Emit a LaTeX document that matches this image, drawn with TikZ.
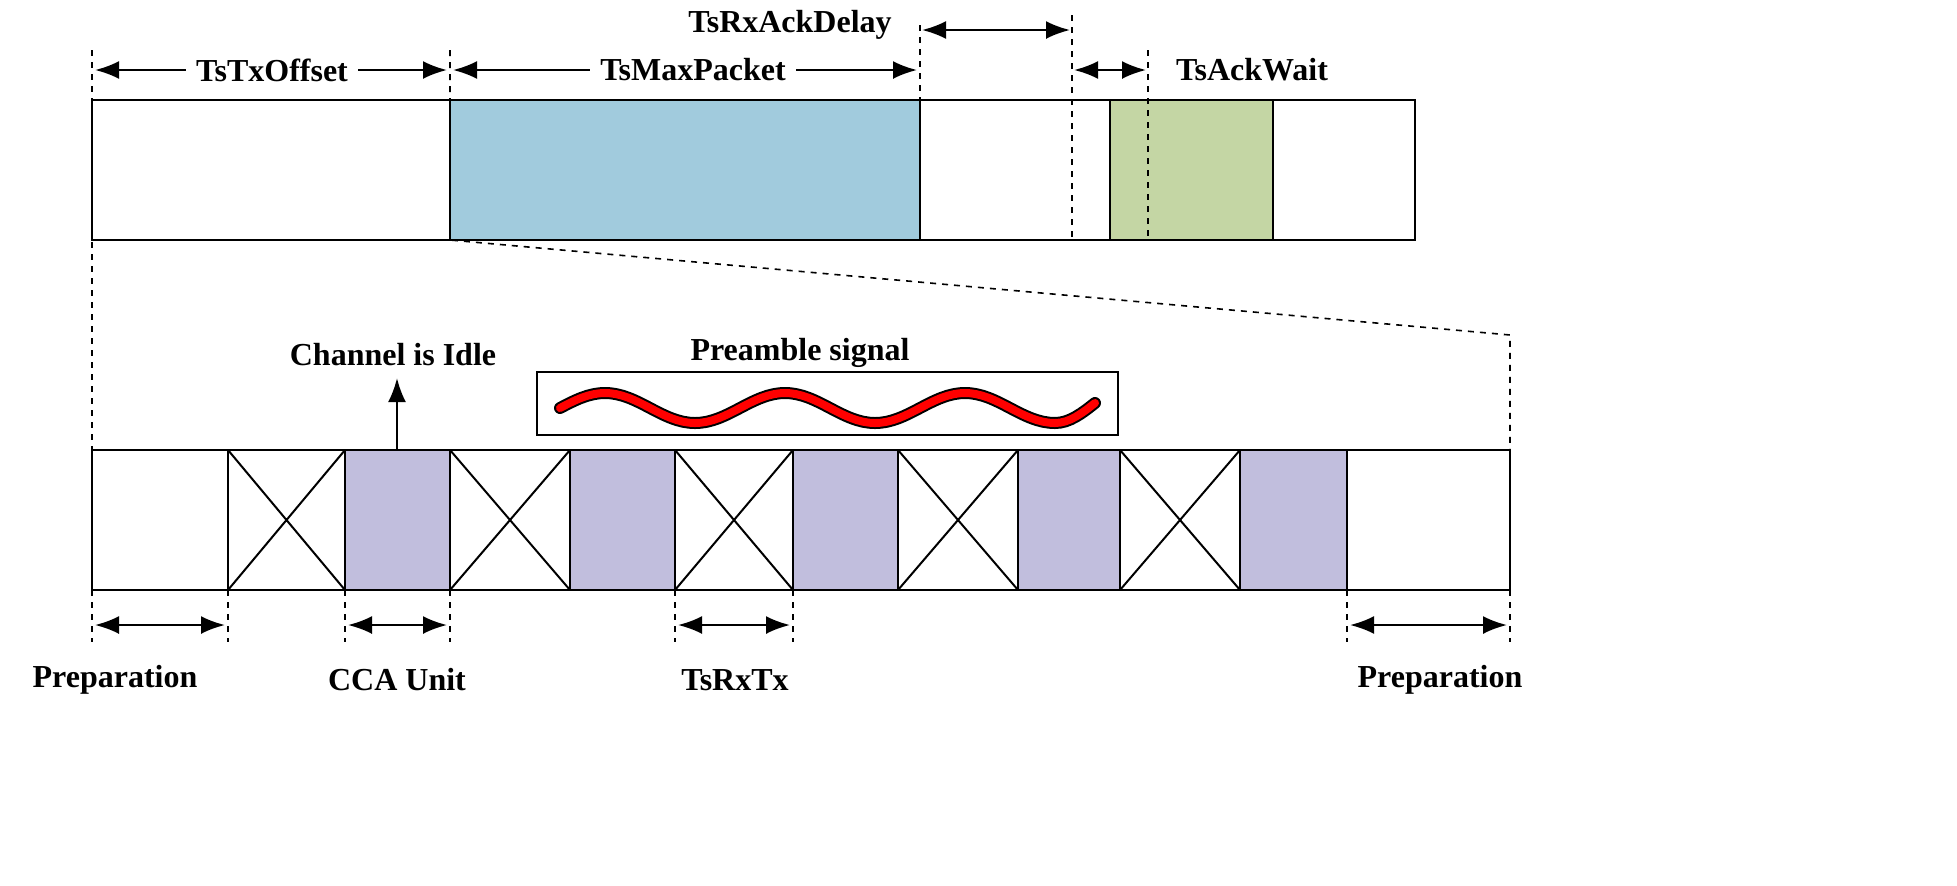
\documentclass[tikz,border=0pt]{standalone}
\usepackage{fontspec}
\setmainfont{Liberation Serif}
\usetikzlibrary{arrows.meta}
\definecolor{pktblue}{RGB}{161,203,221}
\definecolor{ackgreen}{RGB}{196,214,164}
\definecolor{ccapurple}{RGB}{193,190,221}
\tikzset{
  cell/.style={draw,line width=1.2pt},
  guide/.style={dashed,line width=0.8pt},
  dim/.style={{Latex[length=12pt,width=9pt]}-{Latex[length=12pt,width=9pt]},line width=1.2pt},
  dimr/.style={-{Latex[length=12pt,width=9pt]},line width=1.2pt},
  lbl/.style={font=\fontsize{16}{19}\selectfont\bfseries,inner sep=1pt}
}
\begin{document}
\begin{tikzpicture}[x=0.5pt,y=-0.5pt]
\useasboundingbox (0,0) rectangle (1957,885);
%top bar
\draw[cell] (92,100) rectangle (1415,240);
\draw[cell,fill=pktblue] (450,100) rectangle (920,240);
\draw[cell,fill=ackgreen] (1110,100) rectangle (1273,240);
%guides top
\coordinate (g0) at (92,50);
\coordinate (g1) at (450,50);
\draw[guide] (g0) -- (92,450);
\draw[guide] (g1) -- (450,240) -- (1510,335) -- (1510,450);
\draw[guide] (920,25) -- (920,100);
\draw[guide] (1072,15) -- (1072,240);
\draw[guide] (1148,50) -- (1148,240);
%top labels
\node[lbl] (txoff) at (272,70) {TsTxOffset};
\node[lbl] (maxpkt) at (693,70) {TsMaxPacket};
\node[lbl] (rxack) at (790,25) {TsRxAckDelay};
\node[lbl] (ackwait) at (1252,70) {TsAckWait};
\draw[dimr] (txoff.west) ++(-8,0) -- (95,70);
\draw[dimr] (txoff.east) ++(8,0) -- (447,70);
\draw[dimr] (maxpkt.west) ++(-8,0) -- (453,70);
\draw[dimr] (maxpkt.east) ++(8,0) -- (917,70);
\draw[dim] (922,30) -- (1070,30);
\draw[dim] (1074,70) -- (1146,70);
%bottom bar
\draw[cell] (92,450) rectangle (1510,590);
\foreach \a/\b in {345/450,570/675,793/898,1018/1120,1240/1347}
  \draw[cell,fill=ccapurple] (\a,450) rectangle (\b,590);
\foreach \a/\b in {228/345,450/570,675/793,898/1018,1120/1240}{
  \draw[cell] (\a,450) rectangle (\b,590);
  \draw[line width=1pt] (\a,450) -- (\b,590) (\a,590) -- (\b,450);
}
%channel idle
\node[lbl] (idle) at (393,355) {Channel is Idle};
\draw[dimr] (397,450) -- (397,378);
%preamble
\node[lbl] (pre) at (800,353) {Preamble signal};
\draw[cell] (537,372) rectangle (1118,435);
\draw[line width=6pt,line cap=round] (560,408) sin (605,393) cos (650,408) sin (695,423) cos (740,408) sin (785,393) cos (830,408) sin (875,423) cos (920,408) sin (965,393) cos (1010,408) sin (1055,423) cos (1095,403);
\draw[line width=4pt,red,line cap=round] (560,408) sin (605,393) cos (650,408) sin (695,423) cos (740,408) sin (785,393) cos (830,408) sin (875,423) cos (920,408) sin (965,393) cos (1010,408) sin (1055,423) cos (1095,403);
%bottom guides
\foreach \x in {92,228,345,450,675,793,1347,1510}
  \draw[guide] (\x,590) -- (\x,642);
\draw[dim] (95,625) -- (225,625);
\draw[dim] (348,625) -- (447,625);
\draw[dim] (678,625) -- (790,625);
\draw[dim] (1350,625) -- (1507,625);
\node[lbl] (prep1) at (115,680) {Preparation};
\node[lbl] (cca) at (397,680) {CCA Unit};
\node[lbl] (rxtx) at (735,680) {TsRxTx};
\node[lbl] (prep2) at (1440,680) {Preparation};
\end{tikzpicture}
\end{document}
